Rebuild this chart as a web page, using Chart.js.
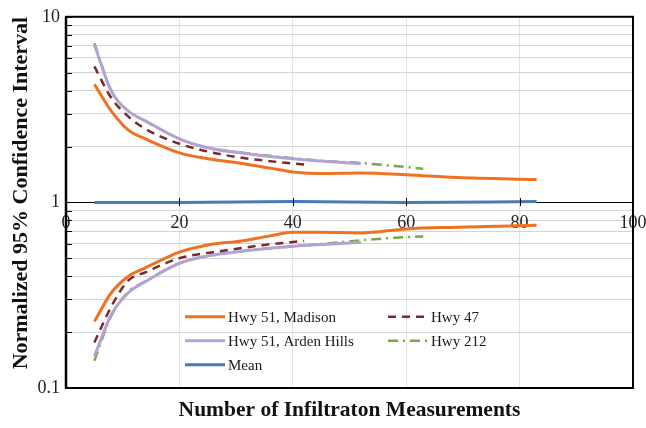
<!DOCTYPE html>
<html>
<head>
<meta charset="utf-8">
<script src="https://cdn.jsdelivr.net/npm/chart.js@4.4.0/dist/chart.umd.min.js"></script>
<style>
  html, body { margin: 0; padding: 0; background: #fff; }
  #wrap { width: 646px; height: 428px; }
</style>
</head>
<body>
<div id="wrap"><canvas id="ci-chart"></canvas></div>
<script>
// Number of measurements (x) and normalized CI bounds (upper / lower) per site
var nMadison = [5, 8, 11, 14, 20, 25, 31, 36, 40, 45, 52, 60, 69, 83];
var madisonUpper = [4.33, 3.1, 2.45, 2.2, 1.85, 1.72, 1.62, 1.53, 1.46, 1.43, 1.44, 1.41, 1.36, 1.33];
var madisonLower = [0.228, 0.326, 0.4, 0.444, 0.54, 0.59, 0.62, 0.66, 0.69, 0.69, 0.685, 0.72, 0.735, 0.753];

var nHwy47 = [5, 8, 11, 14, 20, 28, 35, 42];
var hwy47Upper = [5.4, 3.65, 2.9, 2.49, 2.07, 1.8, 1.68, 1.6];
var hwy47Lower = [0.176, 0.275, 0.38, 0.42, 0.5, 0.55, 0.59, 0.62];

var nArden = [5, 8, 11, 14, 20, 25, 32, 40, 46, 52];
var ardenUpper = [7.1, 3.97, 3.1, 2.75, 2.2, 1.97, 1.83, 1.72, 1.66, 1.62];
var ardenLower = [0.148, 0.249, 0.326, 0.374, 0.47, 0.515, 0.55, 0.58, 0.595, 0.61];

var nHwy212 = [5, 8, 11, 14, 20, 25, 32, 40, 46, 52, 58, 63];
var hwy212Upper = [7.2, 4.0, 3.1, 2.75, 2.2, 1.97, 1.84, 1.73, 1.67, 1.63, 1.57, 1.52];
var hwy212Lower = [0.14, 0.245, 0.33, 0.375, 0.47, 0.515, 0.55, 0.58, 0.6, 0.625, 0.645, 0.655];

var nMean = [5, 20, 40, 60, 83];
var meanValues = [1.0, 1.0, 1.01, 1.0, 1.01];

var yTicks = [0.1, 0.2, 0.3, 0.4, 0.5, 0.6, 0.7, 0.8, 0.9, 1, 2, 3, 4, 5, 6, 7, 8, 9, 10];
var yLabelled = [0.1, 1, 10];

var serif = "'Liberation Serif', 'Times New Roman', serif";

function pts(xs, ys) {
    return xs.map(function (x, i) { return {x: x, y: ys[i]}; });
}

function line(label, xs, ys, color, width, dash) {
    return {
        label: label,
        data: pts(xs, ys),
        borderColor: color,
        backgroundColor: color,
        borderWidth: width,
        borderDash: dash || [],
        pointRadius: 0,
        fill: false,
        tension: 0.4,
        cubicInterpolationMode: 'monotone'
    };
}

var orange = '#EE7222', purple = '#B2A3D4', maroon = '#7A2A2A', green = '#78A845', blue = '#4A7AB8';

var datasets = [
    line('Hwy 51, Madison', nMadison, madisonUpper, orange, 3),
    line('Hwy 51, Madison', nMadison, madisonLower, orange, 3),
    line('Hwy 47', nHwy47, hwy47Upper, maroon, 2.5, [8, 6]),
    line('Hwy 47', nHwy47, hwy47Lower, maroon, 2.5, [8, 6]),
    line('Hwy 51, Arden Hills', nArden, ardenUpper, purple, 3),
    line('Hwy 51, Arden Hills', nArden, ardenLower, purple, 3),
    line('Hwy 212', nHwy212, hwy212Upper, green, 2.5, [10, 5, 2, 5]),
    line('Hwy 212', nHwy212, hwy212Lower, green, 2.5, [10, 5, 2, 5]),
    line('Mean', nMean, meanValues, blue, 3)
];

// legend entries: [dataset index, column, row]
var legendItems = [[0, 0, 0], [2, 1, 0], [4, 0, 1], [6, 1, 1], [8, 0, 2]];

const frameAndLegend = {
    id: 'frameAndLegend',
    afterDraw(chart) {
        const {ctx, chartArea: {left, right, top, bottom}} = chart;
        const yScale = chart.scales.y;
        const xScale = chart.scales.x;
        ctx.save();
        ctx.strokeStyle = '#000';
        ctx.lineWidth = 1;
        // inside tick marks on the left axis
        yTicks.forEach(function (v) {
            const py = Math.round(yScale.getPixelForValue(v)) + 0.5;
            ctx.beginPath();
            ctx.moveTo(left, py);
            ctx.lineTo(left + 6, py);
            ctx.stroke();
        });
        // cross ticks on the x axis line at y = 1
        const y1 = Math.round(yScale.getPixelForValue(1));
        xScale.ticks.forEach(function (t) {
            const px = Math.round(xScale.getPixelForValue(t.value)) + 0.5;
            ctx.beginPath();
            ctx.moveTo(px, y1 - 4);
            ctx.lineTo(px, y1 + 4);
            ctx.stroke();
        });
        // frame
        ctx.lineWidth = 2;
        ctx.strokeRect(left, top, right - left, bottom - top);
        ctx.lineWidth = 2.5;
        ctx.beginPath();
        ctx.moveTo(left, top);
        ctx.lineTo(left, bottom);
        ctx.stroke();

        // legend
        ctx.font = '15px ' + serif;
        ctx.textBaseline = 'middle';
        ctx.textAlign = 'left';
        legendItems.forEach(function (item) {
            const ds = chart.data.datasets[item[0]];
            const x0 = left + 119 + item[1] * 203;
            const y0 = top + 300 + item[2] * 24;
            ctx.strokeStyle = ds.borderColor;
            ctx.lineWidth = ds.borderWidth;
            ctx.setLineDash(ds.borderDash);
            ctx.beginPath();
            ctx.moveTo(x0, y0);
            ctx.lineTo(x0 + 40, y0);
            ctx.stroke();
            ctx.setLineDash([]);
            ctx.fillStyle = '#1a1a1a';
            ctx.fillText(ds.label, x0 + 43, y0 + 1);
        });
        ctx.restore();
    }
};

var ctx = document.getElementById('ci-chart');

new Chart(ctx, {
    type: 'line',
    data: {datasets: datasets},
    plugins: [frameAndLegend],
    options: {
        responsive: true,
        maintainAspectRatio: false,
        animation: false,
        layout: {padding: {top: 15, right: 13, bottom: 0, left: 0}},
        plugins: {
            legend: {display: false},
            tooltip: {enabled: false}
        },
        scales: {
            x: {
                type: 'linear',
                position: {y: 1},
                min: 0,
                max: 100,
                afterFit: function (scale) {
                    scale.paddingLeft = 0;
                    scale.paddingRight = 0;
                },
                ticks: {
                    stepSize: 20,
                    color: '#222',
                    font: {family: serif, size: 18},
                    padding: 5,
                    maxRotation: 0
                },
                grid: {color: '#e3e3e3', lineWidth: 1, drawTicks: true, tickColor: 'rgba(0,0,0,0)', tickLength: 5},
                border: {color: '#000', width: 1}
            },
            x2: {
                type: 'linear',
                position: 'bottom',
                min: 0,
                max: 100,
                afterFit: function (scale) { scale.height = 40; },
                ticks: {display: false},
                grid: {display: false, drawTicks: false},
                border: {display: false},
                title: {
                    display: true,
                    text: 'Number of Infiltraton Measurements',
                    color: '#111',
                    font: {family: serif, size: 21.5, weight: 'bold'},
                    padding: {top: 0, bottom: 5}
                }
            },
            y: {
                type: 'logarithmic',
                min: 0.1,
                max: 10,
                afterBuildTicks: function (scale) {
                    scale.ticks = yTicks.map(function (v) { return {value: v}; });
                },
                afterFit: function (scale) { scale.width = 66; },
                ticks: {
                    autoSkip: false,
                    color: '#222',
                    font: {family: serif, size: 18},
                    padding: 6,
                    callback: function (v) {
                        return yLabelled.indexOf(v) >= 0 ? String(v) : '';
                    }
                },
                grid: {color: '#d4d4d4', lineWidth: 1, drawTicks: false},
                border: {color: '#000', width: 2},
                title: {
                    display: true,
                    align: 'end',
                    text: 'Normalized 95% Confidence Interval',
                    color: '#111',
                    font: {family: serif, size: 22, weight: 'bold'},
                    padding: {top: 8, bottom: 0}
                }
            }
        }
    }
});
</script>
</body>
</html>
